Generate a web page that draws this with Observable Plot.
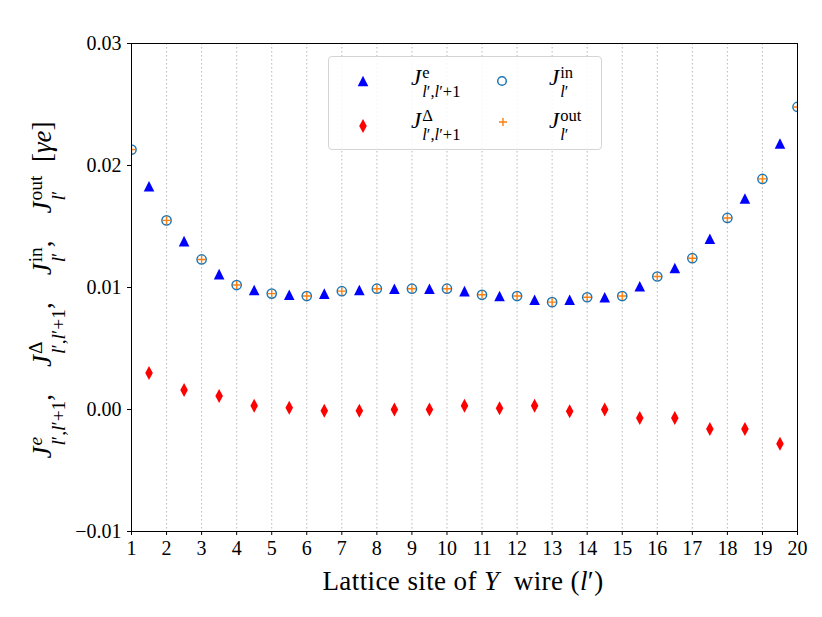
<!DOCTYPE html>
<html>
<head>
<meta charset="utf-8">
<script src="https://cdn.jsdelivr.net/npm/d3@7"></script>
<script src="https://cdn.jsdelivr.net/npm/@observablehq/plot@0.6"></script>
<style>
  html, body { margin: 0; padding: 0; background: white; }
  #wrap { position: relative; width: 822px; height: 617px; font-family: "Liberation Serif", serif; color: black; }
  .ov { position: absolute; white-space: nowrap; line-height: 1.2; }
  .ss { display: inline-block; vertical-align: middle; font-size: 0.72em; line-height: 1.15; margin-left: 1px; position: relative; top: 0.12em; text-align: left; }
  .ss span { display: block; }
  .lab { font-size: 23px; }
</style>
</head>
<body>
<div id="wrap"></div>
<script>
// ---- data ----
const sites = [1,2,3,4,5,6,7,8,9,10,11,12,13,14,15,16,17,18,19,20];
const bonds = [1.5,2.5,3.5,4.5,5.5,6.5,7.5,8.5,9.5,10.5,11.5,12.5,13.5,14.5,15.5,16.5,17.5,18.5,19.5];
const Jin  = [0.0213,0.0155,0.0123,0.0102,0.0095,0.0093,0.0097,0.0099,0.0099,0.0099,0.0094,0.0093,0.0088,0.0092,0.0093,0.0109,0.0124,0.0157,0.0189,0.0248];
const Jout = [0.0213,0.0155,0.0123,0.0102,0.0095,0.0093,0.0097,0.0099,0.0099,0.0099,0.0094,0.0093,0.0088,0.0092,0.0093,0.0109,0.0124,0.0157,0.0189,0.0248];
const Je   = [0.0183,0.0138,0.0111,0.0098,0.0094,0.0095,0.0098,0.0099,0.0099,0.0097,0.0093,0.0090,0.0090,0.0092,0.0101,0.0116,0.0140,0.0173,0.0218];
const Jd   = [0.0030,0.0016,0.0011,0.0003,0.00014,-0.0001,-0.0001,0.0000,0.0000,0.0003,0.0001,0.0003,-0.00014,0.0000,-0.0007,-0.0007,-0.0016,-0.0016,-0.0028];
const yTicks = [-0.01, 0.00, 0.01, 0.02, 0.03];
const xTickLabels = sites.map(String);

// ---- custom matplotlib-like symbols ----
const triSym = { draw(ctx, size) { const a = Math.sqrt(size / Math.PI); ctx.moveTo(0, -a); ctx.lineTo(a, a); ctx.lineTo(-a, a); ctx.closePath(); } };
const diaSym = { draw(ctx, size) { const a = Math.sqrt(size / Math.PI); ctx.moveTo(0, -a); ctx.lineTo(0.54 * a, 0); ctx.lineTo(0, a); ctx.lineTo(-0.54 * a, 0); ctx.closePath(); } };
const plusSym = { draw(ctx, size) { const a = Math.sqrt(size / Math.PI); ctx.moveTo(-a, 0); ctx.lineTo(a, 0); ctx.moveTo(0, -a); ctx.lineTo(0, a); } };

const siteRows = sites.map((s, i) => ({x: s, jin: Jin[i], jout: Jout[i]}));
const bondRows = bonds.map((b, i) => ({x: b, je: Je[i], jd: Jd[i]}));

const chart = Plot.plot({
  width: 822, height: 617,
  marginLeft: 131, marginRight: 25, marginTop: 43, marginBottom: 86,
  style: {fontFamily: "Liberation Serif, serif", fontSize: "20px", background: "white", color: "black", overflow: "visible"},
  x: {domain: [1, 20], ticks: sites, tickFormat: (d, i) => xTickLabels[i], tickSize: 4, tickPadding: 5, label: null},
  y: {domain: [-0.01, 0.03], ticks: yTicks, tickFormat: d3.format(".2f"), tickSize: 4, tickPadding: 6, label: null},
  marks: [
    Plot.ruleX(sites.slice(1, -1), {stroke: "#b0b0b0", strokeWidth: 0.9, strokeDasharray: "1.5,2.5"}),
    Plot.dot(bondRows, {x: "x", y: "je", symbol: triSym, r: 5.3, fill: "#0000ff", stroke: "none", clip: true}),
    Plot.dot(bondRows, {x: "x", y: "jd", symbol: diaSym, r: 7, fill: "#ff0000", stroke: "none", clip: true}),
    Plot.dot(siteRows, {x: "x", y: "jin", symbol: "circle", r: 4.6, fill: "none", stroke: "#1f77b4", strokeWidth: 1.5, clip: true}),
    Plot.dot(siteRows, {x: "x", y: "jout", symbol: plusSym, r: 4, fill: "none", stroke: "#ff7f0e", strokeWidth: 1.4, clip: true}),
    Plot.frame({stroke: "black", strokeWidth: 1})
  ]
});

const wrap = document.getElementById("wrap");
wrap.appendChild(chart);

// ---- text overlays ----
const lp = '<i>l</i>′';
function J(sup, sub) {
  return `<i>J</i><span class="ss"><span>${sup}</span><span>${sub}</span></span>`;
}
const bondSub = `${lp},${lp}+1`;
const sep = ',&ensp;&ensp;';

// y label
const yl = document.createElement("div");
yl.className = "ov";
yl.style.cssText = "left:45px; top:290px; font-size:27px; transform: translate(-50%,-50%) rotate(-90deg);";
yl.innerHTML = `${J('<i>e</i>', bondSub)}${sep}${J('Δ', bondSub)}${sep}${J('in', lp)}${sep}${J('out', lp)}&ensp;[<i>γe</i>]`;
wrap.appendChild(yl);

// x label
const xl = document.createElement("div");
xl.className = "ov";
xl.style.cssText = "left:463px; top:581px; font-size:27px; letter-spacing:0.4px; transform: translate(-50%,-50%);";
xl.innerHTML = `Lattice site of <i>Y</i>&nbsp; wire (${lp})`;
wrap.appendChild(xl);

// legend
const lg = document.createElement("div");
lg.className = "ov";
lg.style.cssText = "left:328px; top:56px; width:272px; height:92px; border:1px solid #d4d4d4; border-radius:4px; background:rgba(255,255,255,0.85);";
wrap.appendChild(lg);

function sym(x, y, svgInner) {
  const d = document.createElement("div");
  d.className = "ov";
  d.style.cssText = `left:${x - 10}px; top:${y - 10}px; width:20px; height:20px;`;
  d.innerHTML = `<svg width="20" height="20" viewBox="-10 -10 20 20">${svgInner}</svg>`;
  wrap.appendChild(d);
}
sym(363, 81, '<path d="M0,-5.3L5.3,5.3L-5.3,5.3Z" fill="#0000ff"/>');
sym(363, 126, '<path d="M0,-7L3.8,0L0,7L-3.8,0Z" fill="#ff0000"/>');
sym(502, 81, '<circle r="4.3" fill="none" stroke="#1f77b4" stroke-width="1.5"/>');
sym(503, 122, '<path d="M-4,0H4M0,-4V4" stroke="#ff7f0e" stroke-width="1.4"/>');

function lab(x, y, html) {
  const d = document.createElement("div");
  d.className = "ov lab";
  d.style.cssText = `left:${x}px; top:${y}px; transform: translateY(-50%);`;
  d.innerHTML = html;
  wrap.appendChild(d);
}
lab(411, 80, J('e', bondSub));
lab(411, 123, J('Δ', bondSub));
lab(549, 80, J('in', lp));
lab(549, 123, J('out', lp));
</script>
</body>
</html>
